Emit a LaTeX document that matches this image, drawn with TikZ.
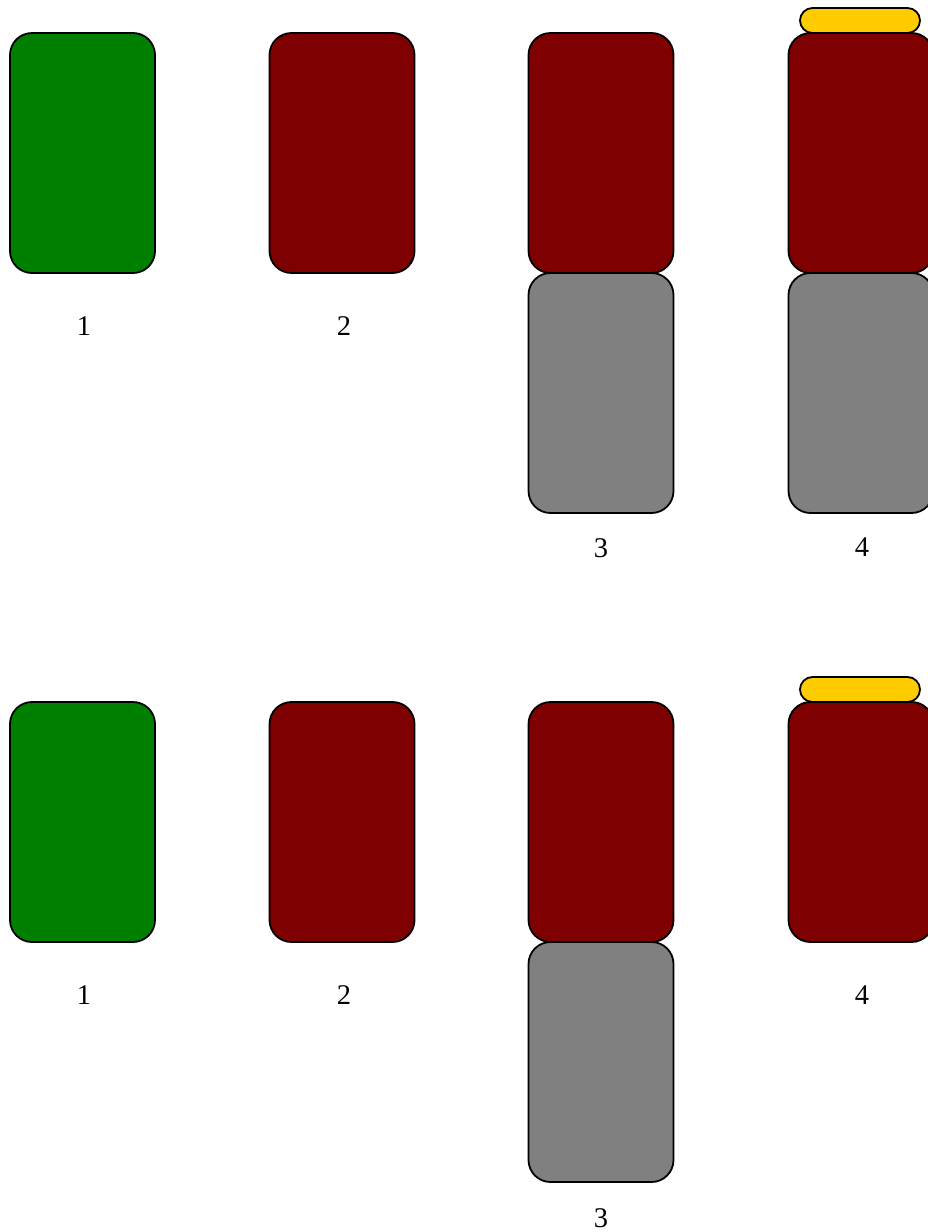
\documentclass[tikz,border=0pt]{standalone}
\usepackage{fontspec}
\setmainfont{Liberation Serif}
\definecolor{cgreen}{HTML}{007F00}
\definecolor{cmaroon}{HTML}{7F0000}
\definecolor{cgray}{HTML}{808080}
\definecolor{cyellow}{HTML}{FFCC00}
\begin{document}
\begin{tikzpicture}[x=1pt,y=-1pt,
  card/.style={draw=black,line width=1.8pt,rectangle,rounded corners=22pt,minimum width=145pt,minimum height=240pt,inner sep=0pt},
  greencard/.style={card,fill=cgreen},
  redcard/.style={card,fill=cmaroon},
  graycard/.style={card,fill=cgray},
  pill/.style={draw=black,line width=1.8pt,rectangle,rounded corners=12.5pt,fill=cyellow,minimum width=120pt,minimum height=25pt,inner sep=0pt},
  lbl/.style={inner sep=0pt,font=\fontsize{28.5}{33}\selectfont}]
\useasboundingbox (0,0) rectangle (927,1232);
% top row
\node[greencard] (a1) at (82.5,153) {};
\node[redcard] (a2) at (342,153) {};
\node[redcard] (a3) at (601,153) {};
\node[graycard] (a3g) at (601,393) {};
\node[redcard] (a4) at (861,153) {};
\node[graycard] (a4g) at (861,393) {};
\node[pill] (a4p) at (860,20.5) {};
\node[lbl] (la1) at (84,326) {1};
\node[lbl] (la2) at (344,326) {2};
\node[lbl] (la3) at (601,548) {3};
\node[lbl] (la4) at (862,547) {4};
% bottom row
\node[greencard] (b1) at (82.5,822) {};
\node[redcard] (b2) at (342,822) {};
\node[redcard] (b3) at (601,822) {};
\node[graycard] (b3g) at (601,1062) {};
\node[redcard] (b4) at (861,822) {};
\node[pill] (b4p) at (860,689.5) {};
\node[lbl] (lb1) at (84,995) {1};
\node[lbl] (lb2) at (344,995) {2};
\node[lbl] (lb3) at (601,1218) {3};
\node[lbl] (lb4) at (862,995) {4};
\end{tikzpicture}
\end{document}
